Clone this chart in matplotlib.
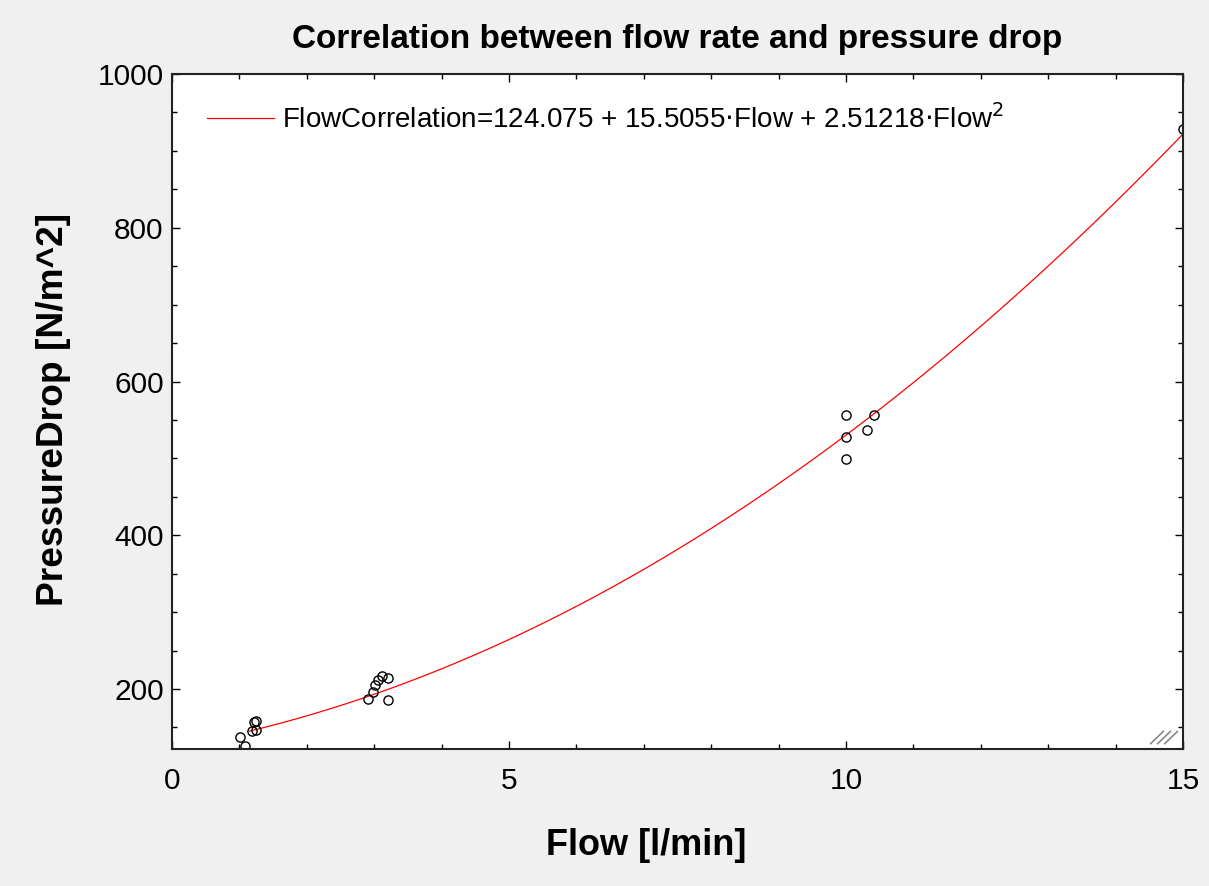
import matplotlib
matplotlib.use("Agg")
import matplotlib.pyplot as plt
import numpy as np
from matplotlib.ticker import MultipleLocator

plt.rcParams['font.family'] = ['Liberation Sans', 'DejaVu Sans']

# Data
flow = [1.01, 1.08, 1.22, 1.25, 1.18, 1.25, 2.91, 2.98, 3.01, 3.06, 3.12, 3.20, 3.20,
        10.0, 10.0, 10.0, 10.31, 10.42, 15.0]
pressure = [137, 126, 157, 158, 146, 147, 187, 196, 205, 212, 217, 214, 186,
            556, 528, 499, 537, 556, 929]
coef = [124.075, 15.5055, 2.51218]
title = "Correlation between flow rate and pressure drop"
xlabel = "Flow [l/min]"
ylabel = "PressureDrop [N/m^2]"
legend_label = r"FlowCorrelation=124.075 + 15.5055$\cdot$Flow + 2.51218$\cdot$Flow$^2$"

W, H = 1209, 886
fig = plt.figure(figsize=(W / 100, H / 100), dpi=100, facecolor='#f0f0f0')
ax = fig.add_axes([172 / W, 1 - 749 / H, (1183 - 172) / W, (749 - 74) / H])
ax.set_facecolor('white')

xf = np.linspace(1.15, 15, 60)
yf = coef[0] + coef[1] * xf + coef[2] * xf ** 2
ax.plot(xf, yf, color='#ff0000', lw=0.9, label=legend_label)
ax.plot(flow, pressure, linestyle='none', marker='o', ms=6.6, mfc='none', mec='black',
        mew=1.0, clip_on=True)

ax.set_xlim(0, 15)
ax.set_ylim(122, 1000)
ax.set_xticks([0, 5, 10, 15])
ax.set_yticks([200, 400, 600, 800, 1000])
ax.xaxis.set_minor_locator(MultipleLocator(1))
ax.yaxis.set_minor_locator(MultipleLocator(50))
ax.tick_params(which='both', direction='in', top=True, right=True, width=1.0, color='black')
ax.tick_params(which='major', length=6, labelsize=21.5, pad=13)
ax.tick_params(which='minor', length=3.5)
ax.tick_params(axis='y', pad=6)
for s in ax.spines.values():
    s.set_linewidth(1.5)
    s.set_color('#222222')

ax.set_title(title, fontsize=24, fontweight='bold', pad=19)
ax.set_xlabel(xlabel, fontsize=26, fontweight='bold', labelpad=24, x=0.469)
ax.set_ylabel(ylabel, fontsize=26.7, fontweight='bold', labelpad=19, y=0.503)

leg = ax.legend(loc='upper left', frameon=False, fontsize=20, handlelength=2.4,
                handletextpad=0.3, borderaxespad=0.5,
                bbox_to_anchor=(10 / 1011, 1 - 5 / 675))

# resize grip hatch at lower-right corner
for k in range(3):
    off = 0.006 + k * 0.007
    ax.plot([1 - off - 0.012, 1 - off + 0.0005], [0.008, 0.026], transform=ax.transAxes,
            color='#888888', lw=1.2)

fig.savefig('out.png', dpi=100, facecolor=fig.get_facecolor())
